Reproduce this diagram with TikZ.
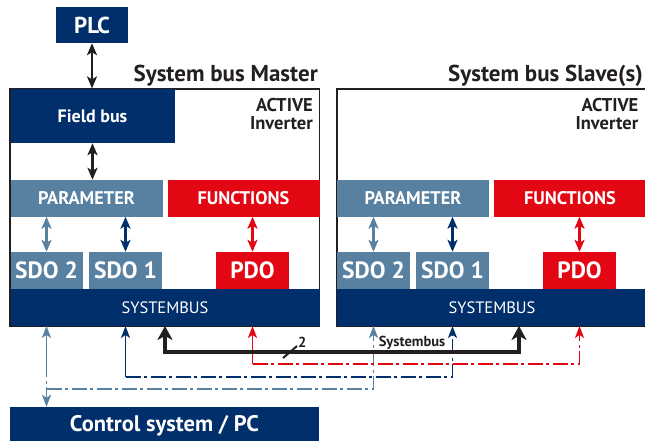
\documentclass[tikz,border=0pt]{standalone}
\usepackage{fontspec}
\setmainfont{PT Sans}
\usetikzlibrary{arrows.meta}
\definecolor{dblue}{RGB}{0,47,108}
\definecolor{sblue}{RGB}{88,128,160}
\definecolor{fred}{RGB}{227,6,19}
\definecolor{txtc}{RGB}{35,31,32}
\begin{document}
\begin{tikzpicture}[x=1pt,y=-1pt,
  box/.style={draw=none,inner sep=0pt,text=white,font=\bfseries},
  frame/.style={draw=txtc,line width=1.2pt,inner sep=0pt},
  head/.style={inner sep=0pt,text=txtc,font=\bfseries},
  dbl/.style={{Stealth[length=12pt,width=10pt,inset=3pt]}-{Stealth[length=12pt,width=10pt,inset=3pt]},line width=2.4pt},
  startarr/.style={{Stealth[length=12pt,width=9pt,inset=3pt]}-,line width=1.7pt},
  endarr/.style={-{Stealth[length=12pt,width=9pt,inset=3pt]},line width=1.7pt},
  dd/.style={dash pattern=on 15pt off 3.5pt on 3pt off 3.5pt},
]
\useasboundingbox (0,0) rectangle (645,441);
% frames
\node[frame,minimum width=309.5pt,minimum height=237pt] (mframe) at (164.75,207.5) {};
\node[frame,minimum width=313pt,minimum height=237pt] (sframe) at (493.5,207.5) {};
% headings
\node[head,anchor=base east,font=\bfseries\fontsize{23}{26}\selectfont] (mhead) at (318,81.5) {System bus Master};
\node[head,anchor=base east,font=\bfseries\fontsize{23}{26}\selectfont] (shead) at (643,81.5) {System bus Slave(s)};
\node[head,anchor=base east,font=\bfseries\fontsize{18.5}{21}\selectfont] (mact) at (313,111.5) {ACTIVE};
\node[head,anchor=base east,font=\bfseries\fontsize{18.5}{21}\selectfont] (minv) at (313,129.5) {Inverter};
\node[head,anchor=base east,font=\bfseries\fontsize{18.5}{21}\selectfont] (sact) at (638.5,111.5) {ACTIVE};
\node[head,anchor=base east,font=\bfseries\fontsize{18.5}{21}\selectfont] (sinv) at (638.5,129.5) {Inverter};
% top boxes
\node[box,fill=dblue,minimum width=72pt,minimum height=36pt,font=\bfseries\fontsize{23}{26}\selectfont] (plc) at (92,25) {PLC};
\node[box,fill=dblue,minimum width=164pt,minimum height=54pt,font=\bfseries\fontsize{18}{21}\selectfont] (field) at (92.5,116) {Field bus};
% master
\node[box,fill=sblue,minimum width=152pt,minimum height=36.5pt,font=\bfseries\fontsize{18.3}{21}\selectfont] (mpar) at (86.5,198.25) {PARAMETER};
\node[box,fill=fred,minimum width=152pt,minimum height=36.5pt,font=\bfseries\fontsize{18.3}{21}\selectfont] (mfun) at (243.5,198.25) {FUNCTIONS};
\node[box,fill=sblue,minimum width=72pt,minimum height=37pt,font=\bfseries\fontsize{23.5}{26}\selectfont] (msdo2) at (46.5,270.5) {SDO 2};
\node[box,fill=sblue,minimum width=73pt,minimum height=37pt,font=\bfseries\fontsize{23.5}{26}\selectfont] (msdo1) at (125.5,270.5) {SDO 1};
\node[box,fill=fred,minimum width=73pt,minimum height=37pt,font=\bfseries\fontsize{23.5}{26}\selectfont] (mpdo) at (252.5,270.5) {PDO};
\node[box,fill=dblue,minimum width=309pt,minimum height=37pt,font=\fontsize{16.5}{20}\selectfont] (msb) at (165,307.25) {SYSTEMBUS};
% slave
\node[box,fill=sblue,minimum width=152pt,minimum height=36.5pt,font=\bfseries\fontsize{18.3}{21}\selectfont] (spar) at (413,198.25) {PARAMETER};
\node[box,fill=fred,minimum width=152pt,minimum height=36.5pt,font=\bfseries\fontsize{18.3}{21}\selectfont] (sfun) at (570,198.25) {FUNCTIONS};
\node[box,fill=sblue,minimum width=73pt,minimum height=37pt,font=\bfseries\fontsize{23.5}{26}\selectfont] (ssdo2) at (373.5,270.5) {SDO 2};
\node[box,fill=sblue,minimum width=73pt,minimum height=37pt,font=\bfseries\fontsize{23.5}{26}\selectfont] (ssdo1) at (452.5,270.5) {SDO 1};
\node[box,fill=fred,minimum width=73pt,minimum height=37pt,font=\bfseries\fontsize{23.5}{26}\selectfont] (spdo) at (579.5,270.5) {PDO};
\node[box,fill=dblue,minimum width=310pt,minimum height=37pt,font=\fontsize{16.5}{20}\selectfont] (ssb) at (492,307.25) {SYSTEMBUS};
% control
\node[box,fill=dblue,minimum width=309pt,minimum height=38pt,font=\bfseries\fontsize{22.5}{25}\selectfont] (ctrl) at (164.5,426) {Control system / PC};
% vertical double arrows
\draw[dbl,txtc] (plc.south) -- (plc.south |- mframe.north);
\draw[dbl,txtc] (field.south) -- (field.south |- mpar.north);
\draw[dbl,sblue] (msdo2.north) -- (msdo2.north |- mpar.south);
\draw[dbl,dblue] (msdo1.north) -- (msdo1.north |- mpar.south);
\draw[dbl,fred] (mpdo.north) -- (mpdo.north |- mfun.south);
\draw[dbl,sblue] (ssdo2.north) -- (ssdo2.north |- spar.south);
\draw[dbl,dblue] (ssdo1.north) -- (ssdo1.north |- spar.south);
\draw[dbl,fred] (spdo.north) -- (spdo.north |- sfun.south);
% bus lines
\coordinate (yr) at (0,364);
\coordinate (yb) at (0,377);
\coordinate (ys) at (0,389);
\coordinate (yss) at (0,362);
\coordinate (bk) at (519,352);
% steel blue
\draw[sblue,startarr] (msb.south -| msdo2) -- (msdo2 |- yss);
\draw[sblue,endarr,dd] (msdo2 |- yss) -- (msdo2 |- ctrl.north);
\draw[sblue,endarr,dd] (msdo2 |- ys) -| (ssb.south -| ssdo2);
% dark blue
\draw[dblue,startarr] (msb.south -| msdo1) -- (msdo1 |- yb);
\draw[dblue,endarr,dd] (msdo1 |- yb) -| (ssb.south -| ssdo1);
% red
\draw[fred,startarr] (msb.south -| mpdo) -- (mpdo |- yr);
\draw[fred,endarr,dd] (mpdo |- yr) -| (ssb.south -| spdo);
% black system bus
\draw[txtc,line width=3.5pt,{Stealth[length=14pt,width=15pt,inset=4pt]}-{Stealth[length=14pt,width=15pt,inset=4pt]}] (msb.south) |- (bk) -- (bk |- ssb.south);
\coordinate (sl1) at (283,358);
\coordinate (sl2) at (297,346);
\draw[txtc,line width=2pt] (sl1) -- (sl2);
\node[head,anchor=west,font=\bfseries\fontsize{14.5}{16}\selectfont] (two) at (298,342) {2};
\node[head,font=\bfseries\fontsize{14.5}{16}\selectfont] (sblab) at (412,343) {Systembus};
\end{tikzpicture}
\end{document}
